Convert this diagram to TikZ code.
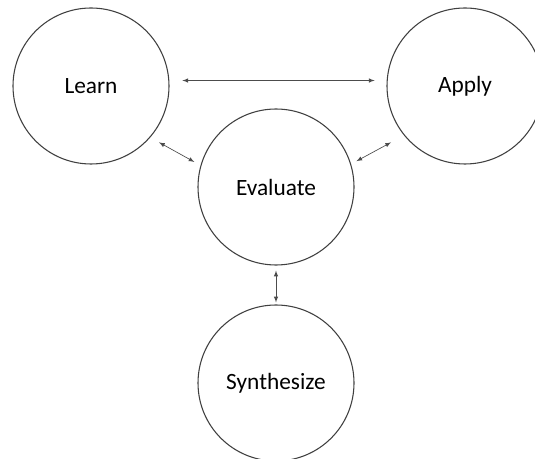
\documentclass[tikz,border=0pt]{standalone}
\usepackage{fontspec}
\setmainfont{Carlito}

\begin{document}
\begin{tikzpicture}[x=0.75pt,y=-0.75pt,
	stage/.style={circle,draw=black!75,line width=0.8pt,minimum size=117pt,inner sep=0pt,font=\fontsize{17.5}{21}\selectfont},
	link/.style={latex-latex,black!70,line width=0.5pt}]
\useasboundingbox (0,0) rectangle (535,459);
%put the four stages
\foreach \name/\x/\y/\txt in {learn/91/86/Learn,apply/465/86/Apply,evaluate/276/187/Evaluate,synth/276/383/Synthesize}{
	\node[stage] (\name) at (\x,\y) {\txt};
}

%connect them
\draw[link,shorten <=9.75pt,shorten >=9pt] (learn.4) -- (apply.176);
\draw[link,shorten <=7.5pt,shorten >=5.25pt] (learn.-41) -- (evaluate.164);
\draw[link,shorten <=4.5pt,shorten >=11pt] (evaluate.17) -- (apply.-141);
\draw[link,shorten <=3.75pt,shorten >=1.5pt] (evaluate.south) -- (synth.north);
\end{tikzpicture}
\end{document}
